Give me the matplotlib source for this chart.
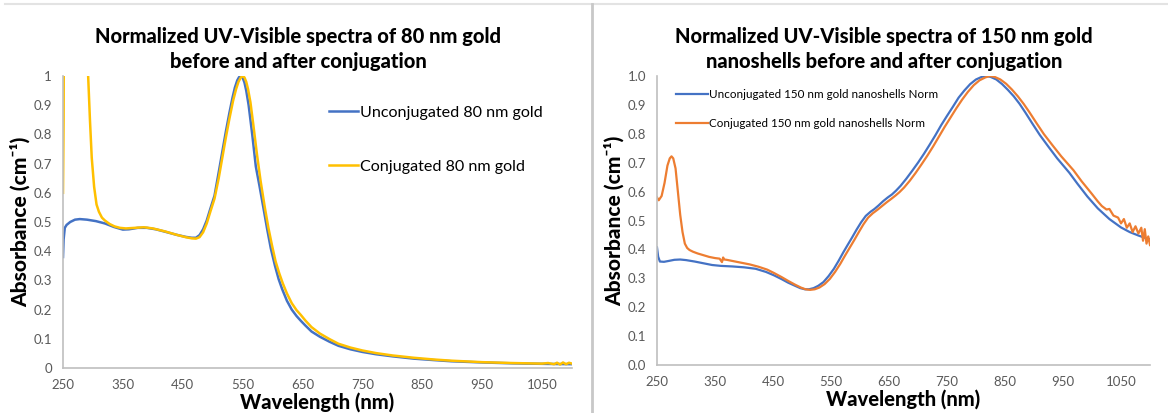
import matplotlib
matplotlib.use("Agg")
import matplotlib.pyplot as plt
from matplotlib.lines import Line2D

# ---------------- data: 80 nm gold ----------------
wl_80_unconj = [250, 251, 253, 256, 262, 270, 278, 290, 305, 320, 335, 350, 360, 375, 390, 405,
                420, 440, 455, 465, 472, 478, 484, 490, 496, 503, 510, 516, 522, 528, 533, 537,
                541, 544, 547, 550, 553, 556, 560, 566, 572, 578, 585, 591, 597, 604, 610, 616,
                624, 632, 640, 647, 655, 665, 679, 695, 710, 730, 750, 773, 800, 836, 870, 899,
                950, 1000, 1025, 1060, 1100]
abs_80_unconj = [0.38, 0.44, 0.48, 0.49, 0.50, 0.508, 0.51, 0.508, 0.503, 0.495, 0.483, 0.474,
                 0.475, 0.48, 0.48, 0.475, 0.467, 0.456, 0.449, 0.446, 0.446, 0.455, 0.475, 0.505,
                 0.545, 0.59, 0.67, 0.74, 0.81, 0.875, 0.925, 0.96, 0.985, 0.996, 1.0, 0.994,
                 0.978, 0.95, 0.9, 0.8, 0.69, 0.625, 0.545, 0.475, 0.41, 0.35, 0.305, 0.27, 0.23,
                 0.2, 0.178, 0.162, 0.145, 0.125, 0.107, 0.09, 0.076, 0.064, 0.055, 0.047, 0.04,
                 0.032, 0.027, 0.023, 0.019, 0.016, 0.015, 0.014, 0.013]

wl_80_conj = [250, 251, 252, 288, 292, 295, 298, 302, 306, 310, 315, 320, 328, 336, 345, 355,
              370, 385, 400, 420, 440, 455, 465, 472, 478, 484, 490, 496, 503, 510, 516, 522,
              528, 534, 539, 543, 547, 550, 553, 556, 559, 563, 568, 574, 580, 587, 593, 599,
              605, 611, 617, 624, 632, 640, 647, 655, 665, 679, 695, 710, 730, 750, 773, 800,
              836, 870, 899, 950, 1000, 1025, 1050, 1060, 1070, 1075, 1080, 1085, 1090, 1095,
              1100]
abs_80_conj = [0.6, 0.85, 1.5, 1.5, 1.0, 0.85, 0.72, 0.62, 0.56, 0.535, 0.515, 0.505, 0.493,
               0.485, 0.48, 0.478, 0.48, 0.482, 0.478, 0.468, 0.456, 0.448, 0.444, 0.443, 0.448,
               0.465, 0.495, 0.535, 0.58, 0.65, 0.72, 0.79, 0.855, 0.915, 0.955, 0.98, 0.995,
               1.0, 0.995, 0.98, 0.955, 0.91, 0.83, 0.73, 0.64, 0.55, 0.48, 0.42, 0.365, 0.325,
               0.29, 0.255, 0.222, 0.198, 0.182, 0.162, 0.14, 0.118, 0.099, 0.083, 0.07, 0.06,
               0.051, 0.043, 0.035, 0.029, 0.025, 0.02, 0.017, 0.016, 0.015, 0.017, 0.013, 0.018,
               0.012, 0.019, 0.013, 0.018, 0.015]

# ---------------- data: 150 nm gold nanoshells ----------------
wl_150_unconj = [250, 252, 255, 262, 270, 280, 290, 300, 315, 330, 345, 360, 380, 400, 420, 438,
                 452, 465, 476, 487, 497, 505, 512, 520, 528, 537, 546, 555, 563, 571, 578, 586,
                 594, 602, 610, 618, 625, 632, 640, 648, 655, 662, 670, 680, 690, 700, 710, 720,
                 730, 740, 750, 760, 770, 780, 790, 800, 810, 817, 825, 835, 845, 855, 865, 875,
                 885, 897, 910, 925, 940, 961, 975, 992, 1010, 1030, 1050, 1065, 1080, 1090, 1100]
abs_150_unconj = [0.407, 0.375, 0.358, 0.357, 0.36, 0.364, 0.365, 0.363, 0.358, 0.352, 0.346,
                  0.343, 0.341, 0.338, 0.333, 0.322, 0.31, 0.297, 0.285, 0.275, 0.266, 0.262,
                  0.262, 0.266, 0.274, 0.287, 0.308, 0.333, 0.36, 0.389, 0.413, 0.44, 0.468,
                  0.494, 0.516, 0.53, 0.54, 0.552, 0.567, 0.58, 0.59, 0.603, 0.62, 0.645, 0.672,
                  0.7, 0.73, 0.762, 0.795, 0.83, 0.862, 0.893, 0.925, 0.95, 0.972, 0.988, 0.997,
                  1.0, 0.997, 0.988, 0.972, 0.952, 0.93, 0.904, 0.874, 0.836, 0.796, 0.755,
                  0.715, 0.665, 0.627, 0.583, 0.542, 0.505, 0.476, 0.46, 0.448, 0.441, 0.435]

wl_150_conj = [250, 253, 258, 263, 268, 272, 275, 278, 282, 286, 290, 294, 298, 302, 306, 312,
               320, 330, 340, 350, 358, 362, 364, 366, 370, 380, 395, 410, 425, 440, 452, 465,
               477, 488, 498, 506, 514, 522, 530, 539, 548, 557, 566, 574, 582, 590, 598, 606,
               614, 622, 630, 638, 646, 654, 661, 668, 676, 686, 696, 706, 716, 726, 736, 746,
               756, 766, 776, 786, 796, 806, 816, 824, 832, 842, 852, 862, 872, 882, 892, 904,
               917, 932, 947, 968, 982, 999, 1010, 1017, 1025, 1030, 1037, 1045, 1050, 1055,
               1060, 1065, 1070, 1075, 1080, 1085, 1088, 1091, 1094, 1097, 1100]
abs_150_conj = [0.58, 0.57, 0.585, 0.63, 0.69, 0.715, 0.722, 0.715, 0.68, 0.6, 0.52, 0.46, 0.42,
                0.405, 0.398, 0.392, 0.386, 0.38, 0.374, 0.37, 0.368, 0.356, 0.372, 0.365, 0.364,
                0.36, 0.354, 0.348, 0.34, 0.33, 0.318, 0.304, 0.29, 0.278, 0.268, 0.262, 0.26,
                0.262, 0.268, 0.28, 0.298, 0.322, 0.35, 0.378, 0.405, 0.432, 0.46, 0.487, 0.51,
                0.525, 0.537, 0.55, 0.563, 0.575, 0.586, 0.598, 0.614, 0.638, 0.665, 0.694,
                0.724, 0.756, 0.79, 0.824, 0.856, 0.888, 0.918, 0.945, 0.968, 0.985, 0.995, 1.0,
                0.997, 0.988, 0.973, 0.953, 0.93, 0.904, 0.875, 0.838, 0.799, 0.76, 0.722, 0.674,
                0.636, 0.594, 0.566, 0.55, 0.538, 0.54, 0.517, 0.51, 0.49, 0.505, 0.475, 0.49,
                0.46, 0.48, 0.455, 0.475, 0.43, 0.47, 0.42, 0.445, 0.415]

x_ticks = [250, 350, 450, 550, 650, 750, 850, 950, 1050]
y_ticks = [0, 0.1, 0.2, 0.3, 0.4, 0.5, 0.6, 0.7, 0.8, 0.9, 1.0]
y_labels_left = ["0", "0.1", "0.2", "0.3", "0.4", "0.5", "0.6", "0.7", "0.8", "0.9", "1"]
y_labels_right = ["0.0", "0.1", "0.2", "0.3", "0.4", "0.5", "0.6", "0.7", "0.8", "0.9", "1.0"]

title_left = "Normalized UV-Visible spectra of 80 nm gold\nbefore and after conjugation"
title_right = "Normalized UV-Visible spectra of 150 nm gold\nnanoshells before and after conjugation"
label_80_unconj = "Unconjugated 80 nm gold"
label_80_conj = "Conjugated 80 nm gold"
label_150_unconj = "Unconjugated 150 nm gold nanoshells Norm"
label_150_conj = "Conjugated 150 nm gold nanoshells Norm"

BLUE = "#4472C4"
GOLD = "#FFC000"
ORANGE = "#ED7D31"
GREY_AXIS = "#BFBFBF"
TICK_COL = "#595959"

plt.rcParams['font.family'] = ['Lato', 'DejaVu Sans']

W, H = 1168, 413
fig = plt.figure(figsize=(W / 100, H / 100), dpi=100)
fig.patch.set_facecolor("white")


def fx(px):
    return px / W


def fy(py):
    return 1 - py / H


ax1 = fig.add_axes([fx(63), fy(368), fx(572 - 63), (368 - 76) / H])
ax2 = fig.add_axes([fx(657), fy(365), fx(1150 - 657), (365 - 76) / H])


def style(ax, ylabels):
    ax.set_xlim(250, 1100)
    ax.set_ylim(0, 1.0)
    ax.set_xticks(x_ticks)
    ax.set_xticklabels([str(t) for t in x_ticks])
    ax.set_yticks(y_ticks)
    ax.set_yticklabels(ylabels)
    for s in ("top", "right"):
        ax.spines[s].set_visible(False)
    for s in ("left", "bottom"):
        ax.spines[s].set_color(GREY_AXIS)
        ax.spines[s].set_linewidth(1.2)
    ax.tick_params(axis="both", length=0, labelsize=9.5, colors=TICK_COL, pad=8)
    ax.set_xlabel("Wavelength (nm)", fontsize=14.5, fontweight="black", labelpad=1)
    ax.set_ylabel("Absorbance (cm\u207b\u00b9)", fontsize=15, fontweight="black", labelpad=2)


ax1.plot(wl_80_unconj, abs_80_unconj, color=BLUE, lw=1.8, label=label_80_unconj)
ax1.plot(wl_80_conj, abs_80_conj, color=GOLD, lw=1.8, label=label_80_conj)
style(ax1, y_labels_left)
ax1.legend(loc="upper left", bbox_to_anchor=(0.51, 0.92), frameon=False, fontsize=11.6,
           handlelength=1.8, handletextpad=0.1, labelspacing=2.45, borderaxespad=0)

ax2.plot(wl_150_unconj, abs_150_unconj, color=BLUE, lw=1.6, label=label_150_unconj)
ax2.plot(wl_150_conj, abs_150_conj, color=ORANGE, lw=1.6, label=label_150_conj)
style(ax2, y_labels_right)
ax2.legend(loc="upper left", bbox_to_anchor=(0.03, 0.97), frameon=False, fontsize=8.4,
           handlelength=2.7, handletextpad=0.1, labelspacing=1.55, borderaxespad=0)

fig.text(fx(298), fy(49), title_left, ha="center", va="center", fontsize=14.5,
         fontweight="black", linespacing=1.35)
fig.text(fx(884), fy(49), title_right, ha="center", va="center", fontsize=14.5,
         fontweight="black", linespacing=1.35)

# panel frames
fig.add_artist(Line2D([fx(5), fx(1168)], [fy(4), fy(4)], color="#E3E3E3", lw=1.5))
fig.add_artist(Line2D([fx(592), fx(592)], [fy(4), fy(413)], color="#C8C8C8", lw=2))

fig.savefig("out.png", dpi=100, facecolor="white")
